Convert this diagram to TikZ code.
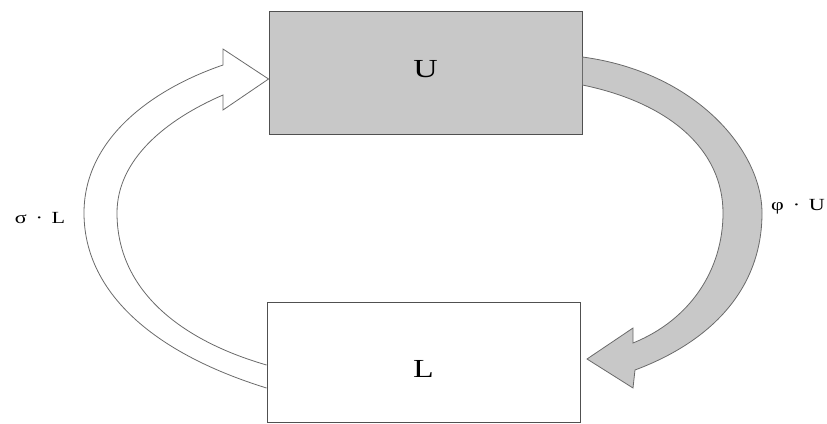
\documentclass[tikz,border=0pt]{standalone}
\usepackage{fontspec}
\setmainfont{Liberation Serif}

\definecolor{boxgray}{RGB}{200,200,200}
\definecolor{linegray}{RGB}{80,80,80}
\newcommand{\wide}[1]{\scalebox{1.3}[1]{#1}}

\begin{document}
\begin{tikzpicture}[x=1pt, y=-1pt,
		box/.style={draw=linegray, line width=0.9pt, inner sep=0pt,
			minimum width=313pt, font=\fontsize{26}{30}\selectfont},
		flow/.style={draw=linegray!85, line width=0.8pt, line join=miter},
		lbl/.style={inner sep=0pt, font=\fontsize{17}{20}\selectfont}]
		\useasboundingbox (0,0) rectangle (827,423);
		\node[box, fill=boxgray, minimum height=123pt, text height=17.2pt, text depth=8pt] (U) at (425.5,72.5) {\wide{U}};
		\node[box, minimum height=120pt, text height=30pt, text depth=0pt] (L) at (423.5,362) {\wide{L}};
		% gray arrow: U to L
		\draw[flow, fill=boxgray] (U.east |- 0,57) .. controls (695,72) and (762,150) .. (762,213)
			.. controls (762,290) and (710,342) .. (635,370) -- (633,388) -- (587,359) -- (633,328)
			-- (633,343) .. controls (690,320) and (723,270) .. (723,213)
			.. controls (723,150) and (670,103) .. (U.east |- 0,85) -- cycle;
		% white arrow: L to U
		\draw[flow, fill=white] (L.west |- 0,388) .. controls (150,352) and (84,290) .. (84,213)
			.. controls (84,140) and (150,90) .. (223,65) -- (223,49) -- (U.west |- 0,79) -- (223,110)
			-- (223,95) .. controls (165,120) and (117,160) .. (117,213)
			.. controls (117,290) and (180,340) .. (L.west |- 0,365);
		\node[lbl] (sigmaL) at (40,218) {\wide{σ\hspace{0.4em}·\hspace{0.4em}L}};
		\node[lbl, anchor=west] (phiU) at (771,207) {\wide{φ\hspace{0.4em}·\hspace{0.4em}U}};
	\end{tikzpicture}
\end{document}
